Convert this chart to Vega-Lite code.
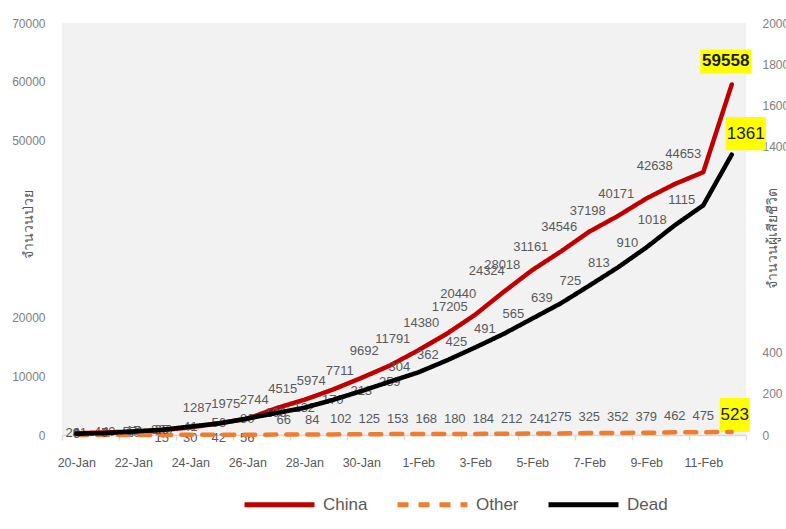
{
  "$schema": "https://vega.github.io/schema/vega-lite/v6.json",
  "width": 684,
  "height": 412,
  "autosize": {"type": "pad"},
  "padding": {"left": 11, "top": 17, "right": 0, "bottom": 0},
  "background": "#ffffff",
  "config": {
    "view": {"stroke": null, "fill": "#f2f2f2"},
    "font": "Liberation Sans",
    "axis": {"grid": false, "labelFont": "Liberation Sans", "labelFontSize": 12, "titleFont": "Liberation Sans", "titleFontWeight": "normal", "titleFontSize": 14, "titleColor": "#595959"},
    "legend": {"padding": 0}
  },
  "data": {
    "values": [
      {"date": "20-Jan", "series": "China", "value": 291},
      {"date": "21-Jan", "series": "China", "value": 440},
      {"date": "22-Jan", "series": "China", "value": 571},
      {"date": "23-Jan", "series": "China", "value": 830},
      {"date": "24-Jan", "series": "China", "value": 1287},
      {"date": "25-Jan", "series": "China", "value": 1975},
      {"date": "26-Jan", "series": "China", "value": 2744},
      {"date": "27-Jan", "series": "China", "value": 4515},
      {"date": "28-Jan", "series": "China", "value": 5974},
      {"date": "29-Jan", "series": "China", "value": 7711},
      {"date": "30-Jan", "series": "China", "value": 9692},
      {"date": "31-Jan", "series": "China", "value": 11791},
      {"date": "1-Feb", "series": "China", "value": 14380},
      {"date": "2-Feb", "series": "China", "value": 17205},
      {"date": "3-Feb", "series": "China", "value": 20440},
      {"date": "4-Feb", "series": "China", "value": 24324},
      {"date": "5-Feb", "series": "China", "value": 28018},
      {"date": "6-Feb", "series": "China", "value": 31161},
      {"date": "7-Feb", "series": "China", "value": 34546},
      {"date": "8-Feb", "series": "China", "value": 37198},
      {"date": "9-Feb", "series": "China", "value": 40171},
      {"date": "10-Feb", "series": "China", "value": 42638},
      {"date": "11-Feb", "series": "China", "value": 44653},
      {"date": "12-Feb", "series": "China", "value": 59558},
      {"date": "20-Jan", "series": "Other", "value": 4},
      {"date": "21-Jan", "series": "Other", "value": 7},
      {"date": "22-Jan", "series": "Other", "value": 10},
      {"date": "23-Jan", "series": "Other", "value": 15},
      {"date": "24-Jan", "series": "Other", "value": 30},
      {"date": "25-Jan", "series": "Other", "value": 42},
      {"date": "26-Jan", "series": "Other", "value": 56},
      {"date": "27-Jan", "series": "Other", "value": 66},
      {"date": "28-Jan", "series": "Other", "value": 84},
      {"date": "29-Jan", "series": "Other", "value": 102},
      {"date": "30-Jan", "series": "Other", "value": 125},
      {"date": "31-Jan", "series": "Other", "value": 153},
      {"date": "1-Feb", "series": "Other", "value": 168},
      {"date": "2-Feb", "series": "Other", "value": 180},
      {"date": "3-Feb", "series": "Other", "value": 184},
      {"date": "4-Feb", "series": "Other", "value": 212},
      {"date": "5-Feb", "series": "Other", "value": 241},
      {"date": "6-Feb", "series": "Other", "value": 275},
      {"date": "7-Feb", "series": "Other", "value": 325},
      {"date": "8-Feb", "series": "Other", "value": 352},
      {"date": "9-Feb", "series": "Other", "value": 379},
      {"date": "10-Feb", "series": "Other", "value": 462},
      {"date": "11-Feb", "series": "Other", "value": 475},
      {"date": "12-Feb", "series": "Other", "value": 523},
      {"date": "20-Jan", "series": "Dead", "value": 6},
      {"date": "21-Jan", "series": "Dead", "value": 9},
      {"date": "22-Jan", "series": "Dead", "value": 17},
      {"date": "23-Jan", "series": "Dead", "value": 25},
      {"date": "24-Jan", "series": "Dead", "value": 41},
      {"date": "25-Jan", "series": "Dead", "value": 56},
      {"date": "26-Jan", "series": "Dead", "value": 80},
      {"date": "27-Jan", "series": "Dead", "value": 106},
      {"date": "28-Jan", "series": "Dead", "value": 132},
      {"date": "29-Jan", "series": "Dead", "value": 170},
      {"date": "30-Jan", "series": "Dead", "value": 213},
      {"date": "31-Jan", "series": "Dead", "value": 259},
      {"date": "1-Feb", "series": "Dead", "value": 304},
      {"date": "2-Feb", "series": "Dead", "value": 362},
      {"date": "3-Feb", "series": "Dead", "value": 425},
      {"date": "4-Feb", "series": "Dead", "value": 491},
      {"date": "5-Feb", "series": "Dead", "value": 565},
      {"date": "6-Feb", "series": "Dead", "value": 639},
      {"date": "7-Feb", "series": "Dead", "value": 725},
      {"date": "8-Feb", "series": "Dead", "value": 813},
      {"date": "9-Feb", "series": "Dead", "value": 910},
      {"date": "10-Feb", "series": "Dead", "value": 1018},
      {"date": "11-Feb", "series": "Dead", "value": 1115},
      {"date": "12-Feb", "series": "Dead", "value": 1361}
    ]
  },
  "encoding": {
    "x": {
      "field": "date",
      "type": "ordinal",
      "sort": null,
      "scale": {"type": "band", "paddingInner": 0, "paddingOuter": 0, "domain": ["20-Jan", "21-Jan", "22-Jan", "23-Jan", "24-Jan", "25-Jan", "26-Jan", "27-Jan", "28-Jan", "29-Jan", "30-Jan", "31-Jan", "1-Feb", "2-Feb", "3-Feb", "4-Feb", "5-Feb", "6-Feb", "7-Feb", "8-Feb", "9-Feb", "10-Feb", "11-Feb", "12-Feb"]},
      "axis": {
        "title": null,
        "labelAngle": 0,
        "tickBand": "extent",
        "domainColor": "#d9d9d9",
        "domainWidth": 1.5,
        "tickColor": "#d9d9d9",
        "tickWidth": 1.5,
        "tickSize": 5,
        "tickOpacity": {"condition": {"test": "indexof(['20-Jan','22-Jan','24-Jan','26-Jan','28-Jan','30-Jan','1-Feb','3-Feb','5-Feb','7-Feb','9-Feb','11-Feb'], datum.value) >= 0", "value": 0}, "value": 1},
        "labelExpr": "indexof(['20-Jan','22-Jan','24-Jan','26-Jan','28-Jan','30-Jan','1-Feb','3-Feb','5-Feb','7-Feb','9-Feb','11-Feb'], datum.value) >= 0 ? datum.label : ''",
        "labelColor": "#595959",
        "labelFontSize": 12.5,
        "labelPadding": 16
      }
    }
  },
  "layer": [
    {
      "encoding": {
        "y": {
          "field": "value",
          "type": "quantitative",
          "scale": {"domain": [0, 70000], "nice": false},
          "axis": {
            "orient": "left",
            "format": "d",
            "title": "จำนวนป่วย",
            "titleAngle": 270,
            "titleX": -34,
            "titleY": 201,
            "titleAlign": "center",
            "titleBaseline": "middle",
            "values": [0, 10000, 20000, 50000, 60000, 70000],
            "domain": false,
            "ticks": false,
            "labelColor": "#808080",
            "labelPadding": 17
          }
        }
      },
      "layer": [
        {
          "transform": [{"filter": {"and": [{"field": "series", "equal": "China"}, {"field": "date", "equal": "12-Feb"}]}}],
          "mark": {"type": "point", "shape": "M-1,-0.47H1V0.47H-1Z", "size": 2601, "filled": true, "color": "#ffff00", "opacity": 1, "strokeWidth": 0, "xOffset": -6, "yOffset": -23}
        },
        {
          "transform": [{"filter": {"and": [{"field": "series", "equal": "Other"}, {"field": "date", "equal": "12-Feb"}]}}],
          "mark": {"type": "point", "shape": "M-0.88,-1H0.88V1H-0.88Z", "size": 1156, "filled": true, "color": "#ffff00", "opacity": 1, "strokeWidth": 0, "xOffset": 3, "yOffset": -17}
        },
        {
          "transform": [{"filter": {"and": [{"field": "series", "equal": "China"}, {"field": "date", "oneOf": ["20-Jan", "21-Jan", "22-Jan", "23-Jan"]}]}}],
          "mark": {"type": "text", "fontSize": 13, "color": "#595959", "dx": 0, "dy": 0},
          "encoding": {"text": {"field": "value", "type": "quantitative", "format": "d"}}
        },
        {
          "transform": [{"filter": {"and": [{"field": "series", "equal": "China"}, {"field": "date", "oneOf": ["24-Jan", "25-Jan", "26-Jan", "27-Jan", "28-Jan", "29-Jan"]}]}}],
          "mark": {"type": "text", "fontSize": 13, "color": "#595959", "dx": 7, "dy": -19},
          "encoding": {"text": {"field": "value", "type": "quantitative", "format": "d"}}
        },
        {
          "transform": [{"filter": {"and": [{"field": "series", "equal": "China"}, {"field": "date", "oneOf": ["30-Jan", "31-Jan", "1-Feb", "2-Feb"]}]}}],
          "mark": {"type": "text", "fontSize": 13, "color": "#595959", "dx": 3, "dy": -27},
          "encoding": {"text": {"field": "value", "type": "quantitative", "format": "d"}}
        },
        {
          "transform": [{"filter": {"and": [{"field": "series", "equal": "China"}, {"field": "date", "oneOf": ["3-Feb", "4-Feb"]}]}}],
          "mark": {"type": "text", "fontSize": 13, "color": "#595959", "dx": -17, "dy": -21},
          "encoding": {"text": {"field": "value", "type": "quantitative", "format": "d"}}
        },
        {
          "transform": [{"filter": {"and": [{"field": "series", "equal": "China"}, {"field": "date", "oneOf": ["5-Feb", "6-Feb", "7-Feb", "8-Feb", "9-Feb"]}]}}],
          "mark": {"type": "text", "fontSize": 13, "color": "#595959", "dx": -30, "dy": -5},
          "encoding": {"text": {"field": "value", "type": "quantitative", "format": "d"}}
        },
        {
          "transform": [{"filter": {"and": [{"field": "series", "equal": "China"}, {"field": "date", "oneOf": ["10-Feb", "11-Feb"]}]}}],
          "mark": {"type": "text", "fontSize": 13, "color": "#595959", "dx": -20, "dy": -18},
          "encoding": {"text": {"field": "value", "type": "quantitative", "format": "d"}}
        },
        {
          "transform": [{"filter": {"and": [{"field": "series", "equal": "China"}, {"field": "date", "equal": "12-Feb"}]}}],
          "mark": {"type": "text", "fontSize": 17, "fontWeight": "bold", "color": "#1a1a1a", "dx": -6, "dy": -23},
          "encoding": {"text": {"field": "value", "type": "quantitative", "format": "d"}}
        },
        {
          "transform": [{"filter": {"and": [{"field": "series", "equal": "Other"}, {"field": "date", "oneOf": ["20-Jan", "21-Jan", "22-Jan"]}]}}],
          "mark": {"type": "text", "fontSize": 13, "color": "#595959", "dx": 0, "dy": -2},
          "encoding": {"text": {"field": "value", "type": "quantitative", "format": "d"}}
        },
        {
          "transform": [{"filter": {"and": [{"field": "series", "equal": "Other"}, {"field": "date", "oneOf": ["23-Jan", "24-Jan", "25-Jan", "26-Jan"]}]}}],
          "mark": {"type": "text", "fontSize": 13, "color": "#595959", "dx": 0, "dy": 3},
          "encoding": {"text": {"field": "value", "type": "quantitative", "format": "d"}}
        },
        {
          "transform": [{"filter": {"and": [{"field": "series", "equal": "Other"}, {"field": "date", "oneOf": ["27-Jan", "28-Jan", "29-Jan", "30-Jan", "31-Jan", "1-Feb", "2-Feb", "3-Feb", "4-Feb", "5-Feb"]}]}}],
          "mark": {"type": "text", "fontSize": 13, "color": "#595959", "dx": 8, "dy": -15},
          "encoding": {"text": {"field": "value", "type": "quantitative", "format": "d"}}
        },
        {
          "transform": [{"filter": {"and": [{"field": "series", "equal": "Other"}, {"field": "date", "oneOf": ["6-Feb", "7-Feb", "8-Feb", "9-Feb", "10-Feb", "11-Feb"]}]}}],
          "mark": {"type": "text", "fontSize": 13, "color": "#595959", "dx": 0, "dy": -16},
          "encoding": {"text": {"field": "value", "type": "quantitative", "format": "d"}}
        },
        {
          "transform": [{"filter": {"and": [{"field": "series", "equal": "Other"}, {"field": "date", "equal": "12-Feb"}]}}],
          "mark": {"type": "text", "fontSize": 17, "color": "#1a1a1a", "dx": 3, "dy": -17},
          "encoding": {"text": {"field": "value", "type": "quantitative", "format": "d"}}
        },
        {
          "transform": [{"filter": {"field": "series", "oneOf": ["China", "Other"]}}],
          "mark": {"type": "line", "strokeWidth": 4.5, "interpolate": "linear", "strokeCap": "round", "strokeJoin": "round"},
          "encoding": {
            "color": {
              "field": "series",
              "type": "nominal",
              "scale": {"domain": ["China", "Other", "Dead"], "range": ["#c00000", "#ed7d31", "#000000"]},
              "legend": {"orient": "none", "legendX": 180, "legendY": 444, "direction": "horizontal", "title": null, "symbolType": "stroke", "symbolSize": 4900, "symbolStrokeWidth": 5, "labelFontSize": 17, "labelColor": "#595959", "labelFont": "Liberation Sans", "columnPadding": 19, "labelOffset": 6}
            },
            "strokeDash": {
              "field": "series",
              "type": "nominal",
              "scale": {"domain": ["China", "Other", "Dead"], "range": [[1, 0], [11, 10], [1, 0]]},
              "legend": {"orient": "none", "legendX": 180, "legendY": 444, "direction": "horizontal", "title": null, "symbolType": "stroke", "symbolSize": 4900, "symbolStrokeWidth": 5, "labelFontSize": 17, "labelColor": "#595959", "labelFont": "Liberation Sans", "columnPadding": 19, "labelOffset": 6}
            }
          }
        }
      ]
    },
    {
      "encoding": {
        "y": {
          "field": "value",
          "type": "quantitative",
          "scale": {"domain": [0, 2000], "nice": false},
          "axis": {
            "orient": "right",
            "format": "d",
            "title": "จำนวนผู้เสียชีวิต",
            "titleAngle": 270,
            "titleX": 26,
            "titleY": 215,
            "titleAlign": "center",
            "titleBaseline": "middle",
            "values": [0, 200, 400, 1400, 1600, 1800, 2000],
            "domain": false,
            "ticks": false,
            "labelColor": "#808080",
            "labelPadding": 16
          }
        }
      },
      "layer": [
        {
          "transform": [{"filter": {"and": [{"field": "series", "equal": "Dead"}, {"field": "date", "equal": "12-Feb"}]}}],
          "mark": {"type": "point", "shape": "M-1,-0.83H1V0.83H-1Z", "size": 1600, "filled": true, "color": "#ffff00", "opacity": 1, "strokeWidth": 0, "xOffset": 14, "yOffset": -21}
        },
        {
          "transform": [{"filter": {"and": [{"field": "series", "equal": "Dead"}, {"field": "date", "oneOf": ["20-Jan", "21-Jan", "22-Jan", "23-Jan", "24-Jan", "25-Jan", "26-Jan", "27-Jan", "28-Jan", "29-Jan", "30-Jan", "31-Jan"]}]}}],
          "mark": {"type": "text", "fontSize": 13, "color": "#595959", "dx": 0, "dy": 0},
          "encoding": {"text": {"field": "value", "type": "quantitative", "format": "d"}}
        },
        {
          "transform": [{"filter": {"and": [{"field": "series", "equal": "Dead"}, {"field": "date", "oneOf": ["1-Feb", "2-Feb", "3-Feb", "4-Feb", "5-Feb", "6-Feb", "7-Feb", "8-Feb", "9-Feb", "10-Feb", "11-Feb"]}]}}],
          "mark": {"type": "text", "fontSize": 13, "color": "#595959", "align": "right", "dx": -8, "dy": -5},
          "encoding": {"text": {"field": "value", "type": "quantitative", "format": "d"}}
        },
        {
          "transform": [{"filter": {"and": [{"field": "series", "equal": "Dead"}, {"field": "date", "equal": "12-Feb"}]}}],
          "mark": {"type": "text", "fontSize": 17, "color": "#1a1a1a", "dx": 14, "dy": -21},
          "encoding": {"text": {"field": "value", "type": "quantitative", "format": "d"}}
        },
        {
          "transform": [{"filter": {"field": "series", "equal": "Dead"}}],
          "mark": {"type": "line", "strokeWidth": 4.5, "interpolate": "linear", "strokeCap": "round", "strokeJoin": "round"},
          "encoding": {
            "color": {
              "field": "series",
              "type": "nominal",
              "scale": {"domain": ["China", "Other", "Dead"], "range": ["#c00000", "#ed7d31", "#000000"]},
              "legend": {"orient": "none", "legendX": 180, "legendY": 444, "direction": "horizontal", "title": null, "symbolType": "stroke", "symbolSize": 4900, "symbolStrokeWidth": 5, "labelFontSize": 17, "labelColor": "#595959", "labelFont": "Liberation Sans", "columnPadding": 19, "labelOffset": 6}
            },
            "strokeDash": {
              "field": "series",
              "type": "nominal",
              "scale": {"domain": ["China", "Other", "Dead"], "range": [[1, 0], [11, 10], [1, 0]]},
              "legend": {"orient": "none", "legendX": 180, "legendY": 444, "direction": "horizontal", "title": null, "symbolType": "stroke", "symbolSize": 4900, "symbolStrokeWidth": 5, "labelFontSize": 17, "labelColor": "#595959", "labelFont": "Liberation Sans", "columnPadding": 19, "labelOffset": 6}
            }
          }
        }
      ]
    }
  ],
  "resolve": {"scale": {"y": "independent"}}
}
